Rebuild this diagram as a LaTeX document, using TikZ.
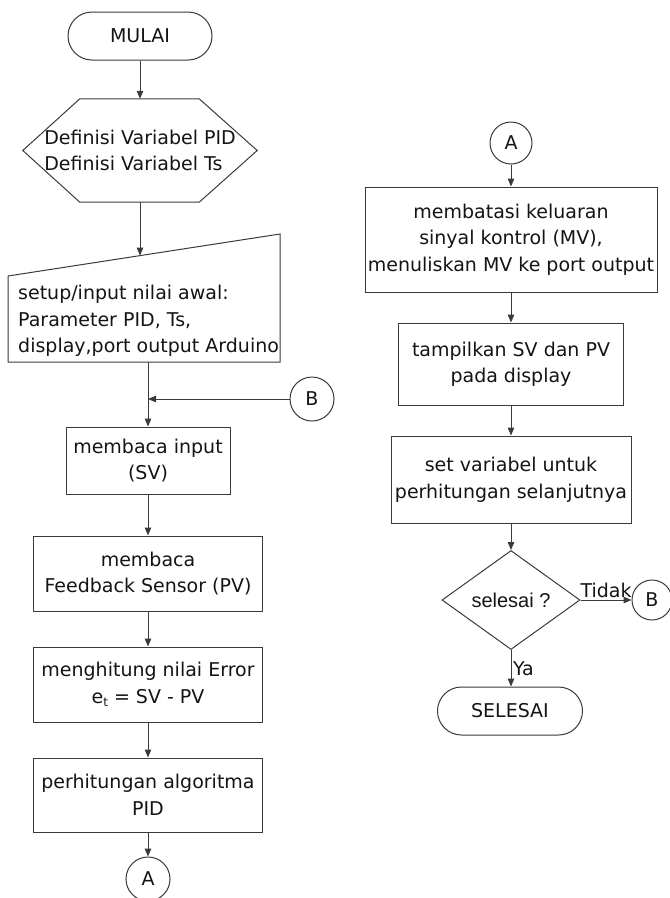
\documentclass[tikz,border=0pt]{standalone}
\usepackage{fontspec}
\setmainfont{DejaVu Sans}
\newfontfamily\arialfont{Liberation Sans}
\usetikzlibrary{shapes.geometric,shapes.misc,arrows.meta}
\definecolor{ln}{HTML}{3A3A3A}
\definecolor{txt}{HTML}{141414}
\begin{document}
\begin{tikzpicture}[x=1pt,y=-1pt,
  every node/.style={font=\fontsize{19}{26.5}\selectfont, text=txt},
  line/.style={draw=ln, line width=1pt},
  arr/.style={line, -{Triangle[length=8pt,width=6.5pt]}},
  procbox/.style={draw=ln, line width=1pt, rectangle, align=center, inner sep=0pt},
  term/.style={draw=ln, line width=1pt, rounded rectangle, minimum width=144pt, minimum height=48pt, inner sep=0pt},
  conn/.style={draw=ln, line width=1pt, circle, minimum size=44pt, inner sep=0pt},
  lbl/.style={inner sep=1.5pt}
]
\useasboundingbox (0,0) rectangle (670,898);

% ---------- left column ----------
\node[term] (mulai) at (140,36) {MULAI};

\node[minimum width=234pt, minimum height=103pt, inner sep=0pt, align=left] (hex) at (140,150.5)
  {Definisi Variabel PID\\Definisi Variabel Ts};
\draw[line] (hex.west) -- ([xshift=57pt]hex.north west) -- ([xshift=-58pt]hex.north east)
  -- (hex.east) -- ([xshift=-58pt]hex.south east) -- ([xshift=57pt]hex.south west) -- cycle;

\coordinate (tbl) at (8,362);
\coordinate (tbr) at (280,362);
\coordinate (ttr) at (280,234);
\coordinate (ttl) at (8,276);
\draw[line] (tbl) -- (tbr) -- (ttr) -- (ttl) -- cycle;
\node[align=left, anchor=west, inner sep=0pt] (setup) at (18,321)
  {setup/input nilai awal:\\Parameter PID, Ts,\\display,port output Arduino};
\coordinate (settop) at (140,255.6);
\coordinate (setbot) at (148,362);

\node[procbox, minimum width=164pt, minimum height=67pt] (input) at (148,460.5) {membaca input\\(SV)};
\node[conn] (b1) at (312,399) {B};
\node[procbox, minimum width=229pt, minimum height=75pt] (fb) at (148,573.5) {membaca\\Feedback Sensor (PV)};
\node[procbox, minimum width=229pt, minimum height=75pt] (err) at (148,684.5)
  {menghitung nilai Error\\e\raisebox{-3pt}{\fontsize{12}{12}\selectfont t} = SV - PV};
\node[procbox, minimum width=229pt, minimum height=74pt] (pid) at (148,795) {perhitungan algoritma\\PID};
\node[conn] (a1) at (148,879) {A};

\draw[arr] (mulai.south) -- (hex.north);
\draw[arr] (hex.south) -- (settop);
\draw[arr] (setbot) -- (input.north);
\draw[arr] (b1.west) -- (b1.west -| input.north);
\draw[arr] (input.south) -- (fb.north);
\draw[arr] (fb.south) -- (err.north);
\draw[arr] (err.south) -- (pid.north);
\draw[arr] (pid.south) -- (a1.north);

% ---------- right column ----------
\node[conn, minimum size=42pt] (a2) at (511,143) {A};
\node[procbox, minimum width=292pt, minimum height=105pt] (mv) at (511,239.5)
  {membatasi keluaran\\sinyal kontrol (MV),\\menuliskan MV ke port output};
\node[procbox, minimum width=225pt, minimum height=82pt] (tamp) at (511,364) {tampilkan SV dan PV\\pada display};
\node[procbox, minimum width=240pt, minimum height=87pt] (setv) at (511,479.5) {set variabel untuk\\perhitungan selanjutnya};
\node[draw=ln, line width=1pt, diamond, aspect=1.39, minimum width=138pt, minimum height=99pt, inner sep=0pt,
  font=\arialfont\fontsize{20}{24}\selectfont] (dec) at (511,600) {selesai ?};
\node[conn, minimum size=40pt] (b2) at (652,600) {B};
\node[term, minimum width=145pt] (sel) at (510,711) {SELESAI};

\draw[arr] (a2.south) -- (mv.north);
\draw[arr] (mv.south) -- (tamp.north);
\draw[arr] (tamp.south) -- (setv.north);
\draw[arr] (setv.south) -- (dec.north);
\draw[arr] (dec.east) -- node[lbl, above] {Tidak} (b2.west);
\draw[arr] (dec.south) -- node[lbl, right] {Ya} (dec.south |- sel.north);
\end{tikzpicture}
\end{document}
